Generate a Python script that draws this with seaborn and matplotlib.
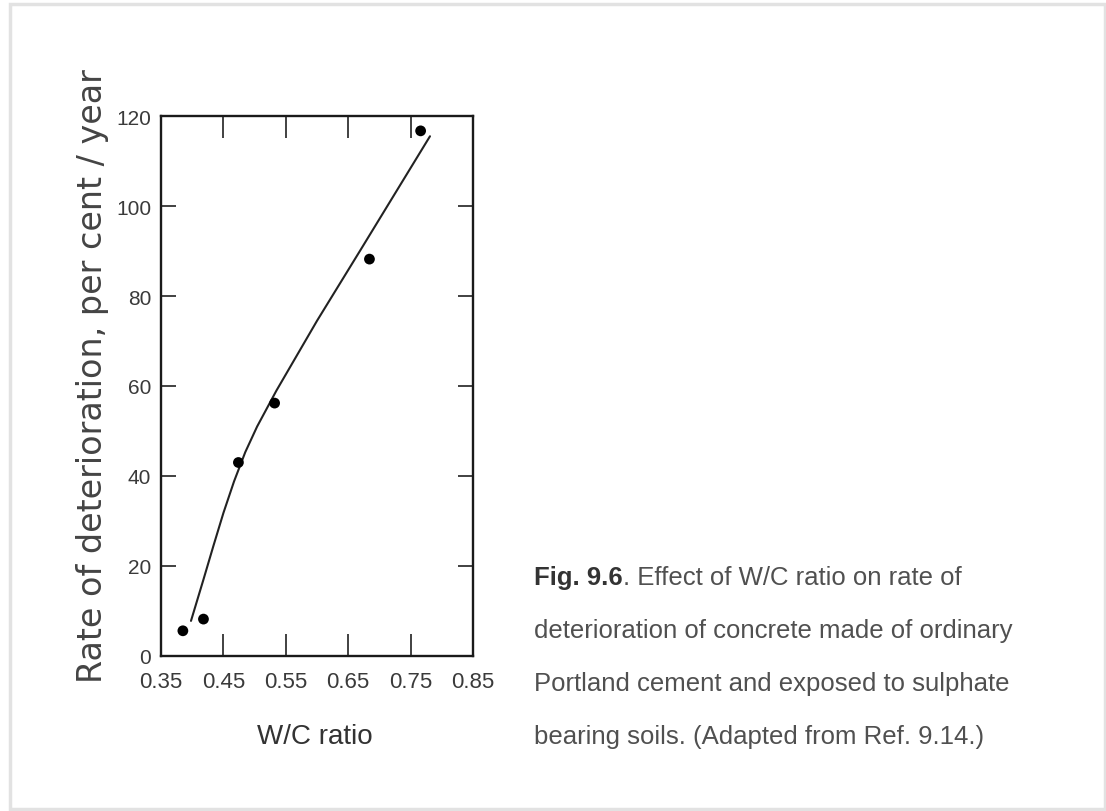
import numpy as np
import pandas as pd
import seaborn as sns
import matplotlib.pyplot as plt
from matplotlib.patches import Rectangle

# measured points (W/C ratio vs deterioration rate)
wc_ratio = [0.385, 0.418, 0.474, 0.532, 0.684, 0.766]
rate = [5.6, 8.2, 43.0, 56.2, 88.2, 116.7]

# hand-drawn trend curve
curve_wc = [0.398, 0.418, 0.434, 0.450, 0.467, 0.485, 0.504, 0.535, 0.60, 0.67, 0.781]
curve_rate = [7.8, 17.0, 24.5, 31.8, 38.8, 45.3, 51.0, 59.0, 74.5, 90.3, 115.5]

x_ticks = [0.35, 0.45, 0.55, 0.65, 0.75, 0.85]
y_ticks = [0, 20, 40, 60, 80, 100, 120]

caption = ["deterioration of concrete made of ordinary",
           "Portland cement and exposed to sulphate",
           "bearing soils. (Adapted from Ref. 9.14.)"]

sns.set_style('ticks')
narrow = ['Liberation Sans', 'DejaVu Sans']

fig = plt.figure(figsize=(11.06, 8.12), dpi=100)
fig.patch.set_facecolor('white')
# faint page frame
fig.patches.append(Rectangle((0.009, 0.002), 0.99, 0.992, transform=fig.transFigure,
                             fill=False, edgecolor='#e2e2e2', lw=2.5))

ax = fig.add_axes([0.1456, 0.1909, 0.2821, 0.665])

pts = pd.DataFrame({'wc': wc_ratio, 'rate': rate})
curve = pd.DataFrame({'wc': curve_wc, 'rate': curve_rate})
sns.lineplot(data=curve, x='wc', y='rate', sort=False, color='#222222', lw=1.5, ax=ax)
sns.scatterplot(data=pts, x='wc', y='rate', color='black', s=60, edgecolor='none', ax=ax, zorder=3)

ax.set_xlim(0.35, 0.85)
ax.set_ylim(0, 120)
ax.set_xticks(x_ticks)
ax.set_yticks(y_ticks)
ax.set_xticklabels([f'{v:.2f}' for v in x_ticks], family=narrow, fontsize=16, color='#3a3a3a')
ax.set_yticklabels([str(v) for v in y_ticks], family=narrow, fontsize=15, color='#3a3a3a')
ax.tick_params(axis='x', direction='in', length=16, width=1.3, color='#333333', pad=11,
               top=True)
ax.tick_params(axis='y', direction='in', length=11, width=1.3, color='#333333', pad=7,
               right=True)
for side in ['top', 'bottom', 'left', 'right']:
    ax.spines[side].set_linewidth(1.7)
    ax.spines[side].set_color('#1a1a1a')

ax.set_xlabel('W/C ratio', family=narrow, fontsize=20, color='#333333', va='center')
ax.xaxis.set_label_coords(0.494, -0.148)
ax.set_ylabel('Rate of deterioration, per cent / year', family='DejaVu Sans',
              fontsize=24, color='#444444', va='center')
ax.yaxis.set_label_coords(-0.22, 0.52)

# caption
cap_x = 534 / 1106
t1 = fig.text(cap_x, 1 - 578 / 812, 'Fig. 9.6', family=narrow, fontsize=18.5,
              fontweight='bold', color='#333333', va='center')
ax.annotate('. Effect of W/C ratio on rate of', xy=(1, 0.5), xycoords=t1,
            va='center', ha='left', family=narrow, fontsize=18.5, color='#505050',
            annotation_clip=False)
for i, line in enumerate(caption):
    fig.text(cap_x, 1 - (631 + 53 * i) / 812, line, family=narrow, fontsize=18.5,
             color='#505050', va='center')

fig.savefig('out.png', dpi=100)
